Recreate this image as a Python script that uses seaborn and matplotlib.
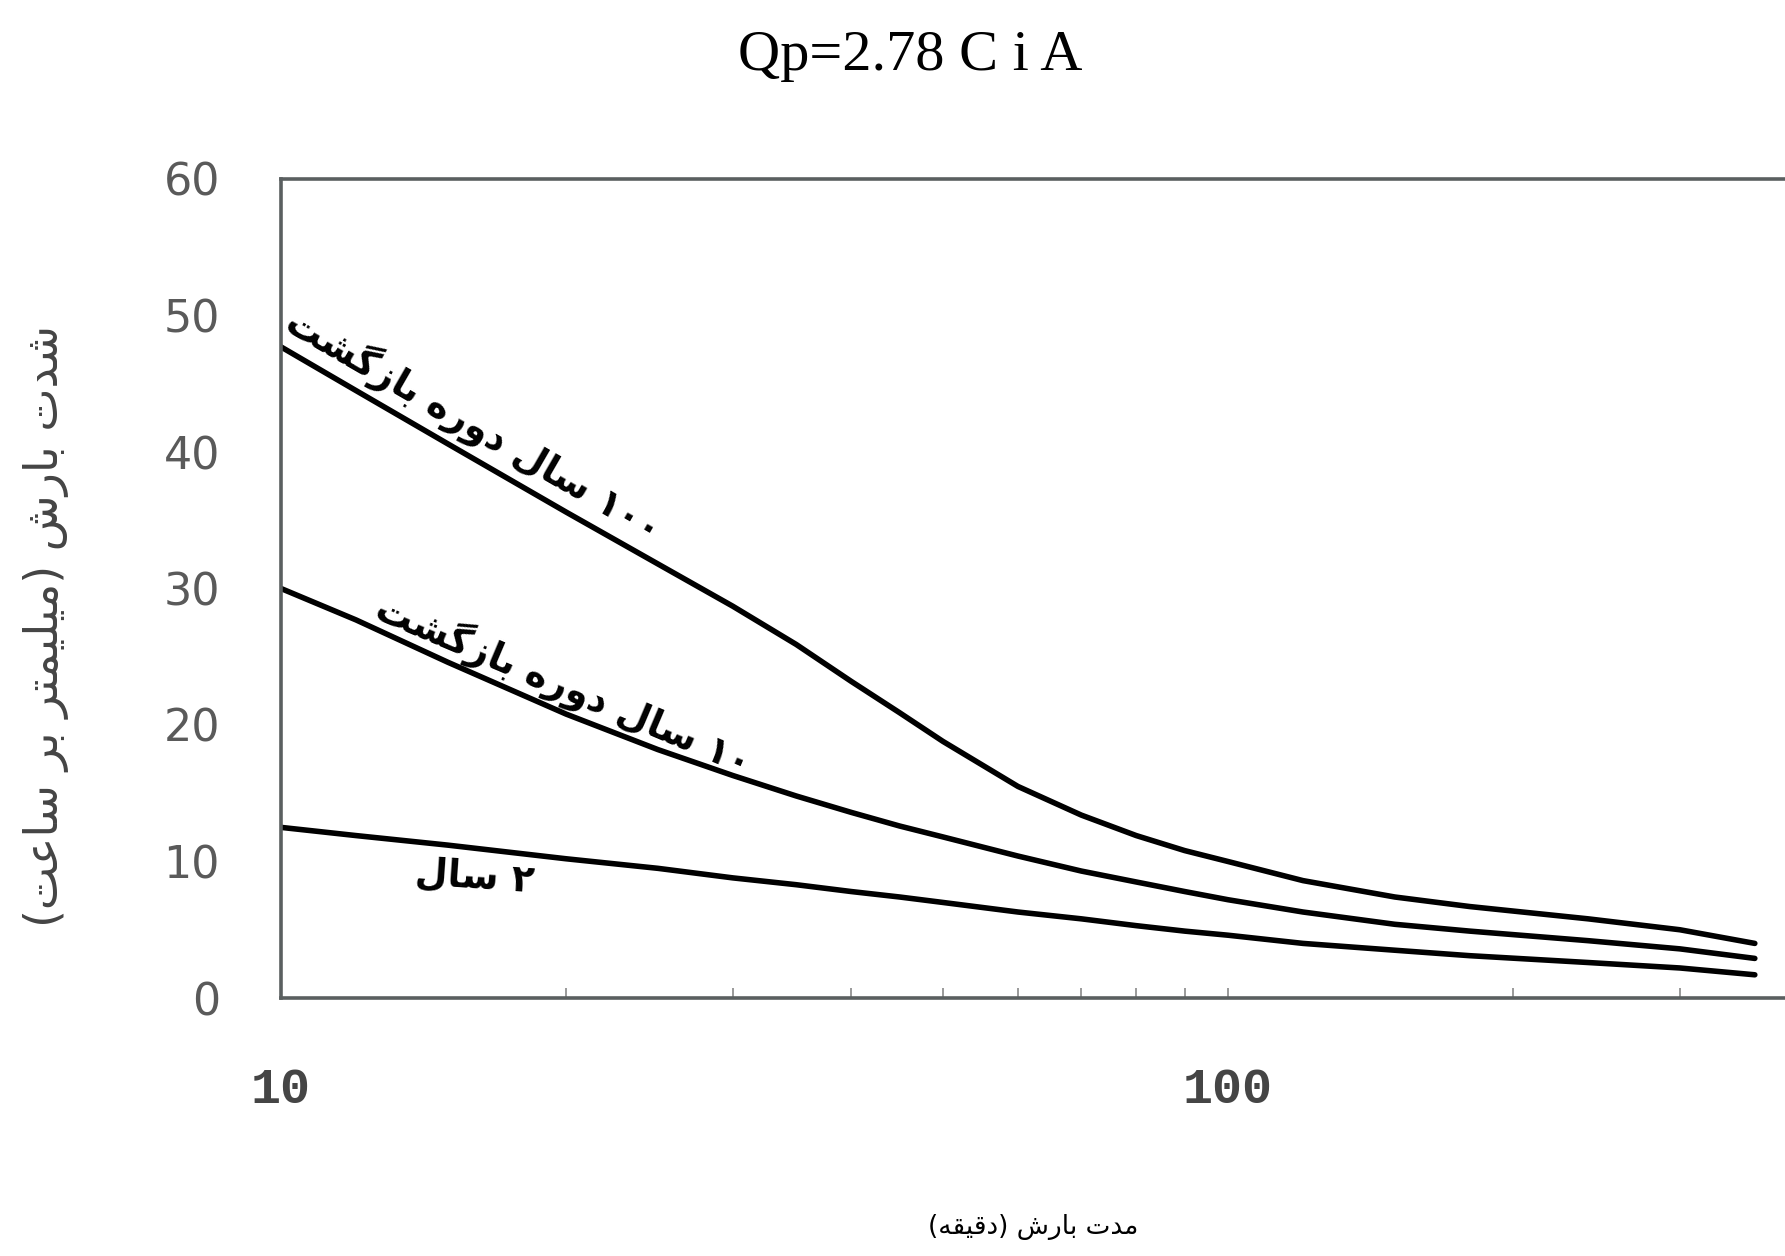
import re
import numpy as np
import pandas as pd
import matplotlib
matplotlib.use("Agg")
import matplotlib.pyplot as plt
import seaborn as sns
from matplotlib.ticker import LogLocator, NullFormatter

# ---------------- data ----------------
duration_min = [10, 12, 15, 20, 25, 30, 35, 40, 45, 50, 60, 70, 80, 90, 100,
                120, 150, 180, 240, 300, 360]
intensity_100yr = [47.7, 44.5, 40.6, 35.6, 31.8, 28.7, 25.9, 23.2, 20.9, 18.8, 15.5,
                   13.4, 11.9, 10.8, 10.0, 8.6, 7.4, 6.7, 5.8, 5.0, 4.0]
intensity_10yr = [30.0, 27.7, 24.6, 20.8, 18.2, 16.3, 14.8, 13.6, 12.6, 11.8, 10.4,
                  9.3, 8.5, 7.8, 7.2, 6.3, 5.4, 4.9, 4.2, 3.6, 2.9]
intensity_2yr = [12.5, 11.9, 11.2, 10.2, 9.5, 8.8, 8.3, 7.8, 7.4, 7.0, 6.3,
                 5.8, 5.3, 4.9, 4.6, 4.0, 3.5, 3.1, 2.6, 2.2, 1.7]
series_names = ["100", "10", "2"]
curve_labels = ["۱۰۰ سال دوره بازگشت", "۱۰ سال دوره بازگشت", "۲ سال"]
x_tick_values = [10, 100]
x_tick_labels = ["10", "100"]
y_tick_values = [0, 10, 20, 30, 40, 50, 60]
title_text = "Qp=2.78 C i A"
x_label_text = "مدت بارش (دقیقه)"
y_label_text = "شدت بارش (میلیمتر بر ساعت)"

# ---------------- simple Persian shaping (matplotlib has no CTL) ----------------
AR_FORMS = {
    "\u0627": ("\ufe8d", "\ufe8e", None, None),
    "\u0628": ("\ufe8f", "\ufe90", "\ufe91", "\ufe92"),
    "\u062a": ("\ufe95", "\ufe96", "\ufe97", "\ufe98"),
    "\u062f": ("\ufea9", "\ufeaa", None, None),
    "\u0631": ("\ufead", "\ufeae", None, None),
    "\u0632": ("\ufeaf", "\ufeb0", None, None),
    "\u0633": ("\ufeb1", "\ufeb2", "\ufeb3", "\ufeb4"),
    "\u0634": ("\ufeb5", "\ufeb6", "\ufeb7", "\ufeb8"),
    "\u0639": ("\ufec9", "\ufeca", "\ufecb", "\ufecc"),
    "\u0642": ("\ufed5", "\ufed6", "\ufed7", "\ufed8"),
    "\u0644": ("\ufedd", "\ufede", "\ufedf", "\ufee0"),
    "\u0645": ("\ufee1", "\ufee2", "\ufee3", "\ufee4"),
    "\u0647": ("\ufee9", "\ufeea", "\ufeeb", "\ufeec"),
    "\u0648": ("\ufeed", "\ufeee", None, None),
    "\u06cc": ("\ufbfc", "\ufbfd", "\ufbfe", "\ufbff"),
    "\u064a": ("\ufbfc", "\ufbfd", "\ufbfe", "\ufbff"),
    "\u06af": ("\ufb92", "\ufb93", "\ufb94", "\ufb95"),
}
RIGHT_ONLY = set("\u0627\u062f\u0630\u0631\u0632\u0698\u0648")


def shape(text):
    chars = list(text)
    out = []
    for i, c in enumerate(chars):
        if c not in AR_FORMS:
            out.append(c)
            continue
        prev = chars[i - 1] if i > 0 else None
        nxt = chars[i + 1] if i + 1 < len(chars) else None
        jp = prev in AR_FORMS and prev not in RIGHT_ONLY
        jn = nxt in AR_FORMS and c not in RIGHT_ONLY
        iso, fin, ini, med = AR_FORMS[c]
        if jp and jn:
            f = med
        elif jp:
            f = fin
        elif jn:
            f = ini
        else:
            f = iso
        out.append(f)
    tokens = re.findall(r"[\u06f0-\u06f90-9]+|.", "".join(out), flags=re.S)
    mirror = {"(": ")", ")": "("}
    return "".join(mirror.get(t, t) for t in reversed(tokens))


# ---------------- figure ----------------
sns.set_style("white")
plt.rcParams["font.family"] = ["DejaVu Sans"]

W, H = 1785, 1256
fig = plt.figure(figsize=(W / 100, H / 100), dpi=100)
ax = fig.add_axes([281 / W, (H - 998) / H, 1894 / W, 819 / H])

n = len(duration_min)
df = pd.DataFrame({
    "duration": duration_min * 3,
    "intensity": intensity_100yr + intensity_10yr + intensity_2yr,
    "period": [series_names[0]] * n + [series_names[1]] * n + [series_names[2]] * n,
})
sns.lineplot(data=df, x="duration", y="intensity", hue="period",
             palette=["black"] * 3, linewidth=4.0, legend=False, ax=ax)
for ln in ax.get_lines():
    ln.set_solid_joinstyle("round")
    ln.set_solid_capstyle("round")

ax.set_xscale("log")
ax.set_xlim(10, 1000)
ax.set_ylim(0, 60)
ax.set_xlabel("")
ax.set_ylabel("")

for side in ["left", "bottom", "top", "right"]:
    ax.spines[side].set_color("#5a5f60")
    ax.spines[side].set_linewidth(2.6)

ax.set_xticks(x_tick_values)
ax.set_xticklabels(x_tick_labels)
ax.xaxis.set_minor_locator(LogLocator(base=10, subs=np.arange(2, 10)))
ax.xaxis.set_minor_formatter(NullFormatter())
ax.tick_params(axis="x", which="both", direction="in", length=7, width=1.4,
               color="#9a9a9a", pad=50, bottom=True)
for lab in ax.get_xticklabels():
    lab.set_fontfamily("Liberation Mono")
    lab.set_fontweight("bold")
    lab.set_fontsize(36)
    lab.set_color("#454545")

ax.set_yticks(y_tick_values)
ax.tick_params(axis="y", length=0, pad=44, labelsize=32, labelcolor="#5a5a5a")

# curve labels
label_pos = [(16.0, 41.9, -30), (19.9, 22.9, -23), (16.0, 8.8, -4)]
for txt, (lx, ly, rot) in zip(curve_labels, label_pos):
    ax.text(lx, ly, shape(txt), rotation=rot, rotation_mode="anchor",
            ha="center", va="center", fontsize=27, fontweight="bold",
            color="black")

# title and axis labels
fig.text(910 / W, 1 - 70 / H, title_text, ha="center", va="baseline",
         family="Liberation Serif", fontsize=42, color="black")
fig.text(46 / W, 1 - 626 / H, shape(y_label_text), rotation=90,
         ha="center", va="center", fontsize=33, color="#444444")
fig.text(1033 / W, 1 - 1227 / H, shape(x_label_text), ha="center",
         va="center", fontsize=19, color="#000000")

fig.savefig("out.png", dpi=100)
